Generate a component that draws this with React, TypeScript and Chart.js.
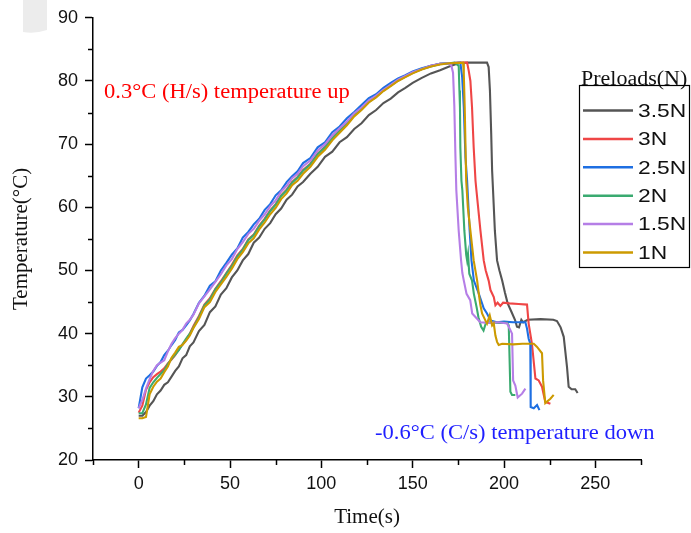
import React, { useEffect, useRef } from 'react';
import { Chart, registerables } from 'chart.js';

Chart.register(...registerables);

// ---- Data ----
const seriesLabels = ['3.5N', '3N', '2.5N', '2N', '1.5N', '1N'];
const seriesColors = ['#555555', '#ef4646', '#1e6fe2', '#3aaa70', '#b57ee6', '#cc9a00'];

const xTickValues = [0, 50, 100, 150, 200, 250];
const yTickValues = [20, 30, 40, 50, 60, 70, 80, 90];

// Shared heating-phase time stamps (s)
const heatTime = [0, 2, 4, 6, 8, 10, 12, 14, 16, 18, 20, 22, 24, 26, 28, 30, 33, 36, 39, 42, 45, 48, 51, 54, 57, 60, 63, 66, 69, 72, 75, 78, 81, 84, 87, 90, 94, 98, 102, 106, 110, 114, 118, 122, 126, 130, 134, 138, 142, 146, 150, 155, 160, 165, 170];

// 3.5N
const heat35 = [27.0, 27.0, 27.6, 28.6, 29.3, 30.4, 31.0, 31.9, 32.3, 33.2, 34.1, 34.8, 36.1, 36.6, 38.0, 38.6, 40.4, 41.4, 43.4, 44.3, 46.2, 47.2, 48.9, 50.0, 51.6, 52.6, 54.4, 55.2, 56.6, 57.5, 58.9, 59.8, 61.2, 62.0, 63.3, 64.0, 65.3, 66.4, 68.0, 68.8, 70.3, 71.1, 72.4, 73.3, 74.6, 75.4, 76.5, 77.2, 78.2, 78.9, 79.7, 80.5, 81.2, 81.7, 82.3];
const coolTime35 = [175, 180, 190.7, 191.6, 192.3, 193, 193.5, 194, 195, 196.2, 197.5, 199, 200.5, 202, 204, 206, 207.1, 208.2, 209.5, 210.5, 213, 220, 227, 229, 231, 232.7, 234.5, 235.4, 237, 239, 240.3];
const cool35 = [82.8, 82.9, 82.9, 82.2, 78.5, 71.6, 65.8, 62.7, 56.3, 51.6, 50.0, 48.4, 46.5, 44.8, 43.5, 42.2, 41.1, 41.0, 42.2, 41.8, 42.2, 42.3, 42.2, 42.0, 41.0, 39.5, 34.7, 31.6, 31.2, 31.2, 30.6];

// 3N
const heat3 = [27.5, 28.6, 31.1, 32.3, 33.1, 33.6, 34.0, 34.5, 35.3, 35.9, 36.6, 37.5, 38.3, 39.0, 40.0, 41.2, 42.8, 44.6, 45.6, 47.1, 48.3, 49.6, 50.9, 52.4, 53.4, 54.9, 55.7, 57.1, 58.2, 59.5, 60.5, 61.9, 62.8, 64.0, 64.8, 65.9, 66.9, 68.5, 69.6, 71.0, 72.2, 73.3, 74.7, 75.7, 76.8, 77.6, 78.5, 79.3, 80.1, 80.7, 81.3, 81.9, 82.4, 82.7, 82.8];
const coolTime3 = [175, 179.8, 180.7, 181.6, 182.5, 183.4, 184.4, 184.9, 187.1, 188.9, 190, 191.6, 192.6, 194.4, 195.3, 196.5, 198, 199.5, 203, 208, 212.6, 213.5, 215.3, 217.2, 219, 220.8, 222.6, 225.4];
const cool3 = [82.9, 82.9, 81.6, 80.0, 75.8, 69.5, 64.2, 62.7, 56.3, 51.6, 50.0, 48.4, 46.9, 45.8, 44.5, 44.9, 44.4, 44.9, 44.8, 44.7, 44.6, 41.6, 38.4, 32.9, 32.6, 31.6, 29.2, 28.9];

// 2.5N
const heat25 = [28.2, 31.5, 32.9, 33.4, 34.0, 34.9, 35.5, 36.6, 37.3, 38.2, 39.0, 40.2, 40.6, 41.3, 42.1, 43.1, 44.9, 46.0, 47.6, 48.3, 50.0, 51.2, 52.5, 53.5, 55.2, 56.1, 57.3, 58.2, 59.6, 60.5, 61.9, 62.7, 64.0, 64.9, 65.7, 67.0, 67.8, 69.5, 70.3, 71.9, 72.8, 74.1, 75.1, 76.2, 77.3, 77.9, 78.9, 79.7, 80.4, 80.9, 81.5, 82.0, 82.4, 82.7, 82.8];
const coolTime25 = [176.1, 177.1, 178, 178.9, 179.8, 181.2, 182.2, 183.5, 186, 188.9, 190.7, 192.6, 196, 200, 205, 211.7, 212.6, 213.5, 214.4, 214.6, 216.3, 218.1, 219.4];
const cool25 = [82.9, 80.6, 75.8, 67.9, 64.2, 56.3, 51.6, 48.4, 46.5, 44.0, 43.2, 42.1, 41.8, 41.9, 41.8, 41.8, 40.8, 39.2, 38.4, 28.4, 28.2, 28.7, 27.9];

// 2N
const heat2 = [27.4, 27.4, 28.8, 31.4, 32.3, 33.0, 33.6, 34.2, 35.2, 36.0, 36.7, 37.4, 38.3, 39.2, 40.0, 41.0, 42.6, 44.5, 45.4, 47.0, 48.1, 49.5, 50.7, 52.2, 53.3, 54.8, 55.6, 57.0, 58.1, 59.4, 60.4, 61.8, 62.7, 63.9, 64.7, 65.8, 66.8, 68.4, 69.5, 70.9, 72.1, 73.2, 74.6, 75.6, 76.7, 77.5, 78.5, 79.3, 80.1, 80.7, 81.3, 81.9, 82.3, 82.7, 82.8];
const coolTime2 = [173, 175.2, 175.6, 175.9, 176.1, 176.7, 177.2, 178.3, 179.3, 179.8, 180.3, 181, 182.5, 183.5, 185, 186, 187.5, 188.8, 190, 192, 197, 201.7, 202.6, 203.5, 204.4, 206.2];
const cool2 = [82.9, 82.4, 78.5, 75.8, 69.5, 64.2, 62.7, 56.3, 52.5, 51.6, 52.6, 49.5, 48.4, 46.3, 44.2, 42.6, 41.1, 40.5, 41.6, 41.8, 41.7, 41.7, 41.3, 30.8, 30.3, 30.3];

// 1.5N
const heat15 = [28.2, 29.5, 31.3, 32.8, 34.1, 35.0, 35.4, 35.8, 37.2, 38.4, 39.3, 40.0, 40.6, 41.6, 42.2, 43.0, 44.8, 45.9, 47.0, 48.2, 49.4, 50.8, 51.8, 53.4, 54.5, 55.8, 56.6, 57.9, 58.9, 60.2, 61.1, 62.5, 63.4, 64.6, 65.3, 66.5, 67.4, 69.0, 70.0, 71.4, 72.5, 73.6, 74.9, 75.8, 76.9, 77.7, 78.6, 79.4, 80.2, 80.8, 81.4, 81.9, 82.4, 82.7, 82.8];
const coolTime15 = [171.2, 172.1, 172.8, 173.4, 173.9, 175.2, 176.5, 177.2, 178, 179.5, 181.5, 182.6, 184.5, 187, 192, 197, 201.7, 202.6, 204.4, 205, 206.2, 207.5, 209.9, 211.7];
const cool15 = [82.4, 81.3, 76.1, 68.2, 62.7, 56.3, 51.6, 49.6, 48.4, 46.3, 45.3, 43.2, 42.6, 41.8, 41.7, 41.8, 41.6, 41.1, 40.0, 32.6, 31.8, 29.9, 30.5, 31.3];

// 1N
const heat1 = [26.6, 26.6, 26.8, 30.4, 31.6, 32.4, 32.9, 33.9, 34.8, 36.2, 37.0, 37.9, 38.2, 38.9, 39.7, 40.9, 42.3, 44.2, 45.0, 46.6, 47.8, 49.0, 50.3, 51.8, 52.9, 54.3, 55.1, 56.5, 57.6, 58.9, 59.9, 61.3, 62.2, 63.5, 64.2, 65.3, 66.4, 68.0, 69.1, 70.6, 71.8, 73.0, 74.4, 75.4, 76.6, 77.4, 78.4, 79.2, 80.0, 80.6, 81.2, 81.8, 82.3, 82.6, 82.8];
const coolTime1 = [177.6, 178, 178.5, 179.3, 180.2, 181.6, 183.4, 185.3, 186.2, 187.1, 188, 189.8, 190.7, 192.2, 193.5, 194.4, 195.3, 196.2, 197.1, 199, 205, 210, 216.3, 218.1, 220.8, 221.4, 222.6, 225.4, 227.2];
const cool1 = [82.9, 81.1, 75.8, 64.2, 60.0, 56.3, 51.6, 48.4, 46.3, 44.5, 43.2, 42.1, 41.6, 42.9, 41.3, 41.6, 39.7, 38.7, 38.2, 38.4, 38.3, 38.4, 38.4, 37.9, 36.9, 32.6, 29.0, 29.7, 30.3];

const heatSets = [heat35, heat3, heat25, heat2, heat15, heat1];
const coolTimes = [coolTime35, coolTime3, coolTime25, coolTime2, coolTime15, coolTime1];
const coolSets = [cool35, cool3, cool25, cool2, cool15, cool1];

const upText = '0.3°C (H/s) temperature up';
const downText = '-0.6°C (C/s) temperature down';
const legendTitle = 'Preloads(N)';

const SANS = '"Liberation Sans", Arial, sans-serif';
const SERIF = '"Liberation Serif", "Times New Roman", serif';

function buildPoints(i: number) {
  const h = heatTime.map((t, k) => ({ x: t, y: heatSets[i][k] }));
  const c = coolTimes[i].map((t, k) => ({ x: t, y: coolSets[i][k] }));
  return h.concat(c);
}

function drawStretched(ctx: CanvasRenderingContext2D, text: string, x: number, y: number, sx: number) {
  ctx.save();
  ctx.translate(x, y);
  ctx.scale(sx, 1);
  ctx.fillText(text, 0, 0);
  ctx.restore();
}

const decorPlugin = {
  id: 'decor',
  beforeDraw(chart: any) {
    const ctx = chart.ctx as CanvasRenderingContext2D;
    ctx.save();
    ctx.fillStyle = '#ececec';
    ctx.beginPath();
    ctx.moveTo(23, 0);
    ctx.lineTo(47, 0);
    ctx.lineTo(47, 30);
    ctx.quadraticCurveTo(35, 34, 23, 32);
    ctx.closePath();
    ctx.fill();
    ctx.restore();
  },
  afterDraw(chart: any) {
    const ctx = chart.ctx as CanvasRenderingContext2D;
    const xs = chart.scales.x;
    const ys = chart.scales.y;
    ctx.save();
    // minor ticks
    ctx.strokeStyle = '#000';
    ctx.lineWidth = 1.5;
    xs.ticks.forEach((t: any) => {
      if (!xTickValues.includes(t.value)) {
        const px = Math.round(xs.getPixelForValue(t.value)) + 0.5;
        ctx.beginPath();
        ctx.moveTo(px, xs.top);
        ctx.lineTo(px, xs.top + 5);
        ctx.stroke();
      }
    });
    ys.ticks.forEach((t: any) => {
      if (!yTickValues.includes(t.value)) {
        const py = Math.round(ys.getPixelForValue(t.value)) + 0.5;
        ctx.beginPath();
        ctx.moveTo(ys.right - 5, py);
        ctx.lineTo(ys.right, py);
        ctx.stroke();
      }
    });

    // annotations
    ctx.textBaseline = 'middle';
    ctx.textAlign = 'left';
    ctx.font = `20.5px ${SERIF}`;
    ctx.fillStyle = '#ff0000';
    drawStretched(ctx, upText, 104, 93, 1.1);
    ctx.fillStyle = '#1f1fff';
    drawStretched(ctx, downText, 375, 434, 1.1);

    // legend
    ctx.fillStyle = '#111';
    ctx.font = `20px ${SERIF}`;
    drawStretched(ctx, legendTitle, 581, 80, 1.1);
    ctx.strokeStyle = '#000';
    ctx.lineWidth = 1.2;
    ctx.strokeRect(579.5, 85.5, 110, 182);
    const ds = chart.data.datasets;
    ds.forEach((d: any, i: number) => {
      const y = 110.5 + i * 28.4;
      ctx.strokeStyle = d.borderColor;
      ctx.lineWidth = 2.5;
      ctx.beginPath();
      ctx.moveTo(583, y);
      ctx.lineTo(633, y);
      ctx.stroke();
      ctx.fillStyle = '#111';
      ctx.font = `19px ${SANS}`;
      drawStretched(ctx, d.label, 638, y + 1, 1.2);
    });
    ctx.restore();
  },
};

export default function App() {
  const canvasRef = useRef<HTMLCanvasElement | null>(null);

  useEffect(() => {
    const canvas = canvasRef.current;
    if (!canvas) return;
    const datasets = seriesLabels.map((label, i) => ({
      label,
      data: buildPoints(i),
      borderColor: seriesColors[i],
      backgroundColor: seriesColors[i],
      borderWidth: 2.1,
      pointRadius: 0,
      tension: 0,
      fill: false,
      order: i === 0 ? 6 : 6 - i,
    }));
    const chart = new Chart(canvas, {
      type: 'line',
      data: { datasets },
      options: {
        responsive: false,
        animation: false,
        devicePixelRatio: 1,
        layout: { padding: { left: 0, right: 50, top: 17, bottom: 0 } },
        plugins: { legend: { display: false }, tooltip: { enabled: false } },
        scales: {
          x: {
            type: 'linear',
            min: -25,
            max: 275,
            afterFit: (s: any) => { s.height = 73; },
            ticks: {
              stepSize: 25,
              autoSkip: false,
              maxRotation: 0,
              padding: 5,
              color: '#111',
              font: { family: SANS, size: 18 },
              callback: (v: any) => (xTickValues.includes(v) ? String(v) : ''),
            },
            grid: {
              display: true,
              drawOnChartArea: false,
              drawTicks: true,
              tickLength: 8,
              tickWidth: 1.5,
              tickColor: (c: any) => (c.tick && xTickValues.includes(c.tick.value) ? '#000' : 'rgba(0,0,0,0)'),
            },
            border: { display: true, color: '#000', width: 1.5 },
            title: {
              display: true,
              text: 'Time(s)',
              color: '#111',
              font: { family: SERIF, size: 21 },
              padding: { top: 0, bottom: 3 },
            },
          },
          y: {
            type: 'linear',
            min: 20,
            max: 90,
            afterFit: (s: any) => { s.width = 93; },
            ticks: {
              stepSize: 5,
              autoSkip: false,
              padding: 7,
              color: '#111',
              font: { family: SANS, size: 18 },
              callback: (v: any) => (yTickValues.includes(v) ? String(v) : ''),
            },
            grid: {
              display: true,
              drawOnChartArea: false,
              drawTicks: true,
              tickLength: 8,
              tickWidth: 1.5,
              tickColor: (c: any) => (c.tick && yTickValues.includes(c.tick.value) ? '#000' : 'rgba(0,0,0,0)'),
            },
            border: { display: true, color: '#000', width: 1.5 },
            title: {
              display: true,
              text: 'Temperature(°C)',
              color: '#111',
              font: { family: SERIF, size: 21 },
              padding: { top: 9, bottom: 0 },
            },
          },
        },
      },
      plugins: [decorPlugin],
    });
    return () => chart.destroy();
  }, []);

  return (
    <div style={{ position: 'absolute', left: 0, top: 0, width: 691, height: 533, background: '#fff' }}>
      <canvas ref={canvasRef} width={691} height={533} style={{ display: 'block', width: 691, height: 533 }} />
    </div>
  );
}
